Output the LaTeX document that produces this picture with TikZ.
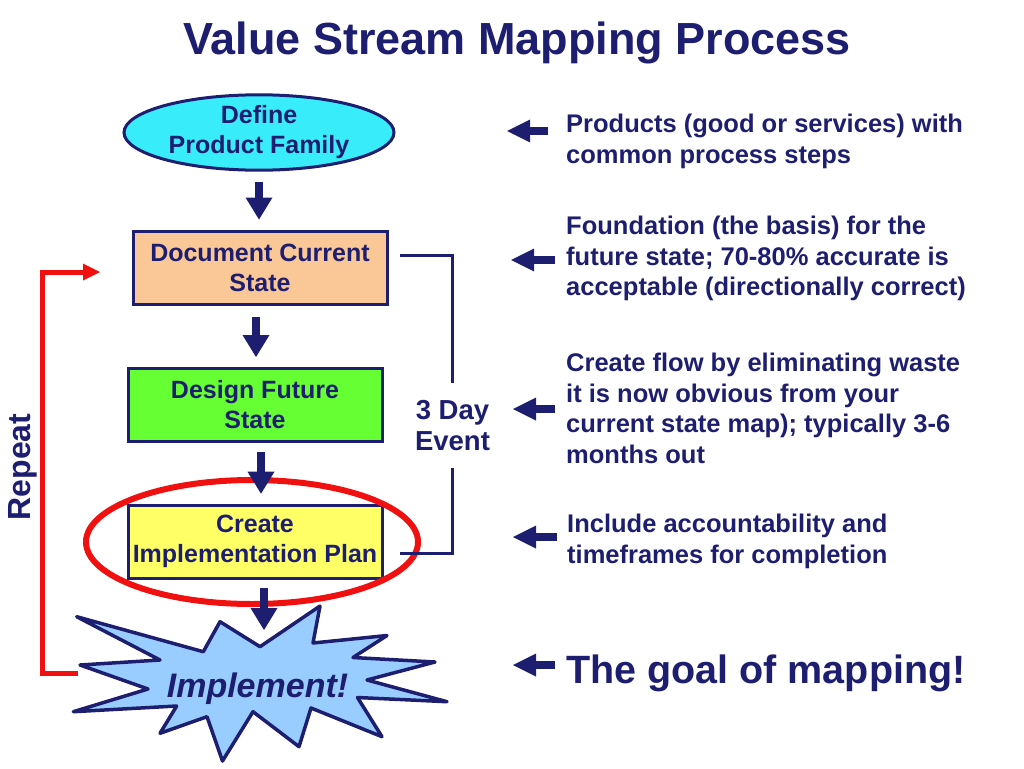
\documentclass[tikz,border=0pt]{standalone}
\usepackage{fontspec}
\setmainfont{Liberation Sans}
\usetikzlibrary{arrows.meta,shapes.geometric,calc}
\definecolor{navy}{RGB}{30,30,112}
\definecolor{cyanf}{RGB}{56,236,250}
\definecolor{peach}{RGB}{250,200,150}
\definecolor{greenf}{RGB}{102,255,51}
\definecolor{yellowf}{RGB}{255,255,102}
\definecolor{burstf}{RGB}{153,204,255}
\definecolor{redc}{RGB}{240,16,16}
\begin{document}
\begin{tikzpicture}[x=1pt,y=-1pt,
  txt/.style={text=navy, font=\fontsize{25}{30}\selectfont\bfseries},
  side/.style={txt, align=left, inner sep=0pt, anchor=north west, font=\fontsize{25.5}{30.5}\selectfont\bfseries},
  stepbox/.style={txt, draw=navy, line width=3pt, align=center, inner sep=0pt, minimum width=254pt, minimum height=73pt},
  downarrow/.style={draw=navy, line width=8pt, -{Triangle[width=27pt,length=22pt,line width=0pt]}},
  leftarrow/.style={draw=navy, line width=8pt, -{Triangle[width=23pt,length=23pt,line width=0pt]}},
  bracket/.style={draw=navy, line width=3pt},
  redloop/.style={draw=redc, line width=5pt, line join=miter, -{Triangle[width=17pt,length=17pt,line width=0pt]}},
  burst/.style={draw=navy, line width=3.5pt, fill=burstf, line join=round}
]
\useasboundingbox (0,0) rectangle (1024,768);

% title
\node[anchor=base, text=navy, font=\fontsize{45}{50}\selectfont\bfseries] (title) at (517,55) {Value Stream Mapping Process};

% flow nodes
\node[txt, draw=navy, line width=3pt, fill=cyanf, ellipse, align=center, inner sep=0pt, minimum width=270pt, minimum height=73pt] (def) at (259,132.5) {Define\\Product Family};
\node[stepbox, fill=peach] (dcs) at (260,267.5) {Document Current\\State};
\node[stepbox, fill=greenf] (dfs) at (255,405) {Design Future\\State};
\node[stepbox, fill=yellowf] (cip) at (255,541.7) {Create\\Implementation Plan};

% red ring
\node[draw=redc, line width=6pt, ellipse, minimum width=332pt, minimum height=124pt, inner sep=0pt] (ring) at (252,542) {};

% red repeat loop
\coordinate (bl) at (78,673);
\coordinate (rc) at (42,673);
\coordinate (rep) at (100,272);
\draw[redloop] (bl) -- (rc) |- (rep);
\node[anchor=base, rotate=90, text=navy, font=\fontsize{32}{36}\selectfont\bfseries] (repeat) at (30,467) {Repeat};

% starburst
\draw[burst] (76.7,616.7) -- (203.3,651.7) -- (220,621.7) -- (260,646.7) -- (320,606) -- (313,643)
  -- (387,635.5) -- (353,657.5) -- (435,662) -- (367,680) -- (447,701.7) -- (357.5,697.5)
  -- (382,736.7) -- (311,708) -- (299,746.7) -- (253,711.7) -- (222.5,761) -- (207,716.7)
  -- (160,733.3) -- (176.7,706) -- (73.3,711.7) -- (148,689) -- (80,665) -- (160,660) -- cycle;
\coordinate (burstTop) at (264,647);
\node[anchor=base, text=navy, font=\fontsize{34}{38}\selectfont\bfseries\itshape] (impl) at (257.5,697) {Implement!};

% down arrows
\draw[downarrow, shorten <=10pt, shorten >=10pt] (def.south) -- (def.south |- dcs.north);
\draw[downarrow, shorten <=11pt, shorten >=10pt] ($(dcs.south)+(-4,0)$) -- ($(dcs.south |- dfs.north)+(-4,0)$);
\draw[downarrow, shorten <=9pt, shorten >=10pt] ($(dfs.south)+(6,0)$) -- ($(dfs.south |- cip.north)+(6,0)$);
\draw[downarrow, shorten <=8pt, shorten >=17pt] ($(cip.south)+(9,0)$) -- (burstTop);

% 3 day event bracket
\node[txt, align=center, inner xsep=0pt, inner ysep=17pt, font=\fontsize{27.5}{31}\selectfont\bfseries] (event) at (452.5,425.5) {3 Day\\Event};
\coordinate (b1) at (400,255);
\coordinate (b2) at (400,553);
\draw[bracket] (b1) -| (event.north);
\draw[bracket] (b2) -| (event.south);

% side texts
\node[side] (t1) at (566,114) {Products (good or services) with\\common process steps};
\node[side] (t2) at (566,216) {Foundation (the basis) for the\\future state; 70-80\% accurate is\\acceptable (directionally correct)};
\node[side] (t3) at (566,353) {Create flow by eliminating waste\\it is now obvious from your\\current state map); typically 3-6\\months out};
\node[side] (t4) at (567,514) {Include accountability and\\timeframes for completion};
\node[anchor=base west, inner sep=0pt, text=navy, font=\fontsize{39.5}{44}\selectfont\bfseries] (t5) at (566,683) {The goal of mapping!};

% side arrows
\coordinate (a1s) at (548,131); \coordinate (a1e) at (507,131);
\coordinate (a2s) at (555,260); \coordinate (a2e) at (511,260);
\coordinate (a3s) at (555,409); \coordinate (a3e) at (513,409);
\coordinate (a4s) at (557,537); \coordinate (a4e) at (513,537);
\coordinate (a5s) at (555,665); \coordinate (a5e) at (513,665);
\draw[leftarrow] (a1s) -- (a1e);
\draw[leftarrow] (a2s) -- (a2e);
\draw[leftarrow] (a3s) -- (a3e);
\draw[leftarrow] (a4s) -- (a4e);
\draw[leftarrow] (a5s) -- (a5e);
\end{tikzpicture}
\end{document}
